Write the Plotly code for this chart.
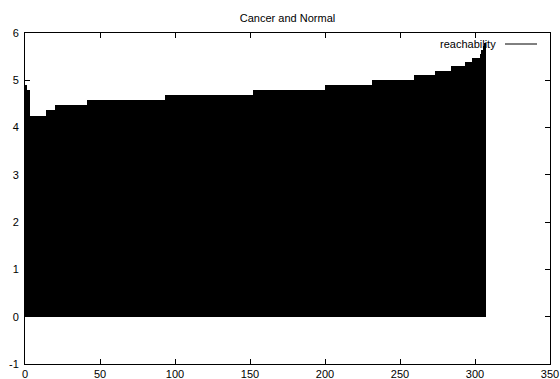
import plotly.graph_objects as go

# Reachability levels, as (value, run length) steps
step_values = [4.9, 4.79, 4.25, 4.37, 4.48, 4.58, 4.69, 4.79, 4.9, 5.0, 5.11, 5.2, 5.3, 5.39, 5.48, 5.56, 5.65, 5.72, 5.78]
step_counts = [2, 2, 11, 6, 21, 52, 59, 48, 31, 28, 14, 11, 9, 5, 5, 1, 1, 1, 1]

reachability = []
for v, n in zip(step_values, step_counts):
    reachability += [v] * n
order = list(range(len(reachability)))

x_ticks = [0, 50, 100, 150, 200, 250, 300, 350]
y_ticks = [-1, 0, 1, 2, 3, 4, 5, 6]

W, H = 560, 379
# plot area in window pixels
PX0, PX1, PY0, PY1 = 25, 550, 33, 364
L, R = PX0, W - PX1
T, B = PY0, H - PY1

def px_x(x):
    return (x - PX0) / (PX1 - PX0)

def px_y(y):
    return 1 - (y - PY0) / (PY1 - PY0)

fig = go.Figure()
fig.add_trace(go.Bar(x=order, y=reachability, width=1.0,
                     marker=dict(color="black", line=dict(width=0)),
                     showlegend=False, name="reachability"))

font = dict(family="Liberation Sans, Arial, sans-serif", size=11, color="black")

axis_common = dict(showgrid=False, zeroline=False, showline=True, linecolor="black",
                   linewidth=1, mirror="ticks", ticks="inside", ticklen=5,
                   tickcolor="black", tickfont=font, automargin=False)

fig.update_layout(
    width=W, height=H,
    margin=dict(l=L, r=R, t=T, b=B, autoexpand=False),
    paper_bgcolor="white", plot_bgcolor="white",
    bargap=0,
    xaxis=dict(range=[0, 350], tickvals=x_ticks, ticktext=[str(v) for v in x_ticks], **axis_common),
    yaxis=dict(range=[-1, 6], tickvals=y_ticks, ticktext=[str(v) for v in y_ticks],
               ticklabelstandoff=3, **axis_common),
    title=dict(text="Cancer and Normal", x=0.5, xref="paper", xanchor="center",
               y=1 - 18 / H, yanchor="middle", font=font),
    font=font,
)

# legend (gnuplot style: text then line sample)
fig.add_annotation(text="reachability", xref="paper", yref="paper",
                   x=px_x(498), y=px_y(44),
                   xanchor="right", yanchor="middle", showarrow=False, font=font)
fig.add_shape(type="line", xref="paper", yref="paper",
              x0=px_x(505), x1=px_x(537), y0=px_y(44), y1=px_y(44),
              line=dict(color="black", width=1))

fig.write_html("out.html", config={"displayModeBar": False},
               post_script="document.body.style.margin='0px';document.body.style.overflow='hidden';")
